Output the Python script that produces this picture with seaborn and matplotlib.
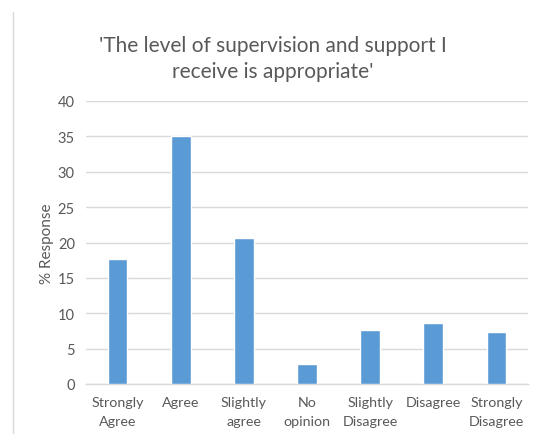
import matplotlib
matplotlib.use("Agg")
import matplotlib.pyplot as plt
from matplotlib.lines import Line2D
import seaborn as sns
import pandas as pd

categories = ["Strongly\nAgree", "Agree", "Slightly\nagree", "No\nopinion",
              "Slightly\nDisagree", "Disagree", "Strongly\nDisagree"]
responses = [17.6, 35.0, 20.6, 2.8, 7.6, 8.6, 7.4]
y_ticks = [0, 5, 10, 15, 20, 25, 30, 35, 40]

TEXT = "#595959"
GRID = "#D9D9D9"
BAR = "#5B9BD5"

sns.set_theme(style="white")
plt.rcParams["font.family"] = ["Lato", "DejaVu Sans"]

df = pd.DataFrame({"category": categories, "response": responses})

fig = plt.figure(figsize=(5.4, 4.35), dpi=100)
ax = fig.add_axes([86 / 540, 1 - 385 / 435, (528 - 86) / 540, (385 - 102) / 435])

sns.barplot(data=df, x="category", y="response", color=BAR, width=0.31,
            saturation=1, ax=ax, zorder=3)

ax.set_ylim(0, 40)
ax.set_yticks(y_ticks)
ax.yaxis.grid(True, color=GRID, linewidth=1)
ax.set_axisbelow(True)
for side in ["top", "right", "left"]:
    ax.spines[side].set_visible(False)
ax.spines["bottom"].set_color(GRID)
ax.spines["bottom"].set_linewidth(1)

ax.tick_params(axis="x", length=0, colors=TEXT, labelsize=10.3, pad=9)
ax.tick_params(axis="y", length=0, colors=TEXT, labelsize=10.5, pad=8)
for lbl in ax.get_xticklabels():
    lbl.set_linespacing(1.65)
ax.set_xlabel("")
ax.set_ylabel("% Response", color=TEXT, fontsize=11, labelpad=3)

fig.text(0.505, 1 - 59 / 435,
         "'The level of supervision and support I\nreceive is appropriate'",
         ha="center", va="center", fontsize=15, color=TEXT, linespacing=1.4)

# thin border on the left edge of the chart area
fig.add_artist(Line2D([13 / 540, 13 / 540], [0, 1 - 13 / 435],
                      transform=fig.transFigure, color=GRID, linewidth=1))

fig.savefig("out.png", dpi=100)
